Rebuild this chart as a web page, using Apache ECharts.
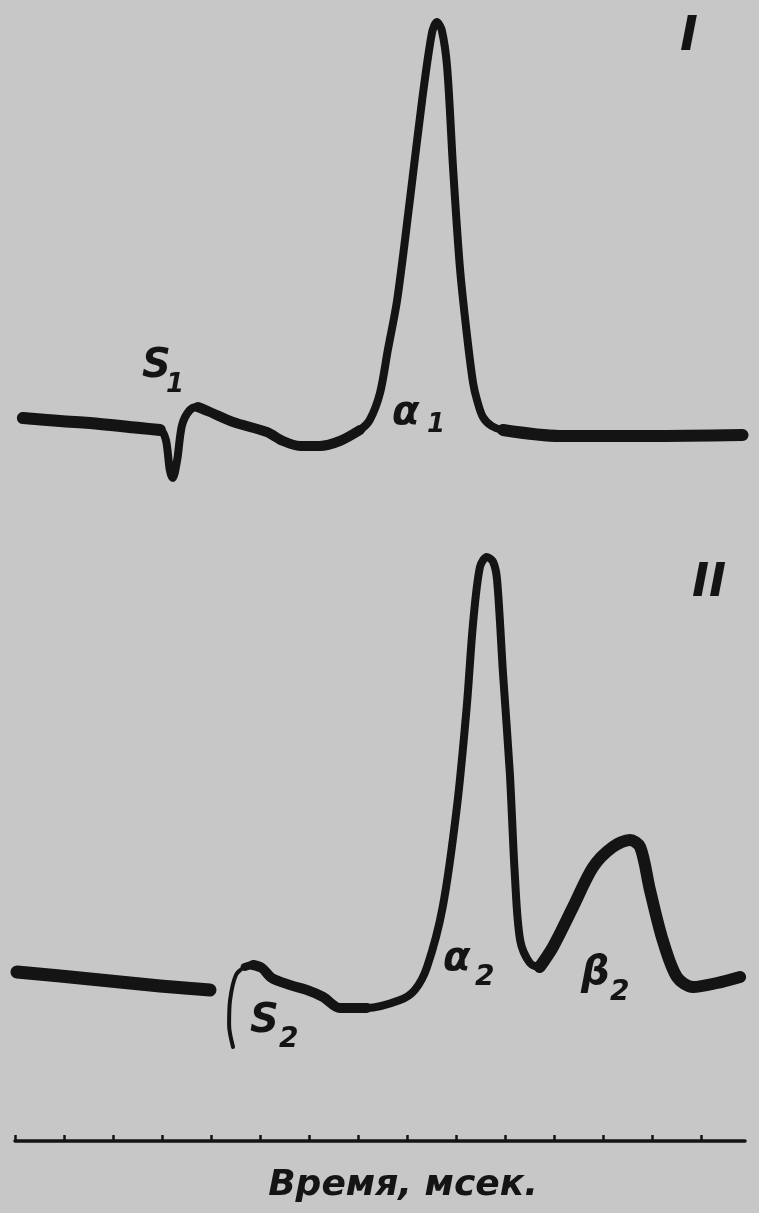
<!DOCTYPE html>
<html><head><meta charset="utf-8">
<script src="https://cdn.jsdelivr.net/npm/echarts@6/dist/echarts.min.js"></script>
<style>html,body{margin:0;padding:0;background:#c7c7c7}#c{width:759px;height:1213px}</style>
</head><body><div id="c"></div>
<script>
// x in time-scale divisions, y in relative amplitude units
const traceI = [[0.16,1.2],[0.92,0.9],[1.73,0.6],[2.55,0.2],[2.96,0.0],[3.08,-1.0],[3.16,-4.0],[3.22,-4.8],[3.31,-3.0],[3.41,0.5],[3.57,2.0],[3.73,2.3],[3.98,1.8],[4.45,0.8],[5.14,-0.2],[5.47,-1.1],[5.82,-1.6],[6.22,-1.6],[6.63,-1.1],[7.04,0.0],[7.24,1.0],[7.45,3.7],[7.61,8.0],[7.80,13.0],[8.06,23.0],[8.31,33.0],[8.51,39.7],[8.61,40.8],[8.71,40.0],[8.82,36.3],[8.94,26.3],[9.08,16.3],[9.22,9.7],[9.35,4.7],[9.43,3.0],[9.55,1.3],[9.73,0.4],[9.96,0.0],[11.12,-0.6],[12.96,-0.6],[14.85,-0.5]];
const traceII_left = [[0.04,1.8],[0.92,1.4],[1.94,0.9],[2.96,0.4],[3.98,0.0]];
const traceII_hook = [[4.45,-5.7],[4.37,-3.5],[4.39,-1.0],[4.51,1.5],[4.69,2.3],[4.86,2.5]];
const traceII = [[4.69,2.3],[4.86,2.5],[5.04,2.2],[5.24,1.2],[5.61,0.5],[5.96,0.0],[6.29,-0.7],[6.63,-1.8],[7.18,-1.8],[7.86,-1.0],[8.16,0.0],[8.41,2.3],[8.73,8.3],[9.02,18.3],[9.22,28.3],[9.35,36.7],[9.49,42.3],[9.63,43.3],[9.76,42.8],[9.84,41.0],[9.96,31.7],[10.10,21.7],[10.20,11.7],[10.31,5.0],[10.51,2.7],[10.71,2.3],[10.98,4.3],[11.39,8.3],[11.80,12.3],[12.20,14.3],[12.55,15.0],[12.76,14.3],[12.96,10.0],[13.22,5.0],[13.51,1.3],[13.84,0.3],[14.33,0.7],[14.80,1.3]];
const timeTicks = [0,1,2,3,4,5,6,7,8,9,10,11,12,13,14];
const axisTitle = 'Время, мсек.';

const chart = echarts.init(document.getElementById('c'), null, {renderer:'canvas'});
const ink = '#141414';
function seg(data, w, xi, yi){
  return {type:'line', data, xAxisIndex:xi, yAxisIndex:yi, showSymbol:false, smooth:0.3, animation:false,
    lineStyle:{color:ink, width:w, cap:'round', join:'round'}};
}
const hidY = {type:'value', show:false};
const hidX = {type:'value', min:0, max:14.9, show:false};
const font = '"DejaVu Sans", sans-serif';
function txt(x,y,t,size,weight){return {type:'text', x, y, z:10, style:{text:t, font:'italic '+(weight||'bold')+' '+size+'px '+font, fill:ink}};}
chart.setOption({
  backgroundColor:'#c7c7c7',
  grid:[
    {left:15, width:730, top:10, height:500},
    {left:15, width:730, top:540, height:530},
    {left:15, width:730, top:1141, height:0}
  ],
  xAxis:[
    Object.assign({gridIndex:0}, hidX),
    Object.assign({gridIndex:1}, hidX),
    {gridIndex:2, type:'value', min:0, max:14.9, interval:1, position:'bottom',
     axisLine:{show:true, onZero:false, lineStyle:{color:ink, width:3.5}},
     axisTick:{show:true, inside:true, length:6, lineStyle:{color:ink, width:2.5}, customValues: timeTicks},
     axisLabel:{show:false}, splitLine:{show:false}}
  ],
  yAxis:[
    Object.assign({gridIndex:0, min:-8, max:42}, hidY),
    Object.assign({gridIndex:1, min:-8, max:45}, hidY),
    {gridIndex:2, type:'value', show:false}
  ],
  series:[
    seg(traceI, 8, 0, 0),
    seg(traceI.slice(0, 5), 12, 0, 0),
    seg(traceI.slice(11, 20), 10, 0, 0),
    seg(traceI.slice(37), 12, 0, 0),
    seg(traceII_left, 13, 1, 1),
    seg(traceII_hook, 4, 1, 1),
    seg(traceII, 8, 1, 1),
    seg(traceII.slice(1, 9), 10, 1, 1),
    seg(traceII.slice(25), 12, 1, 1)
  ],
  graphic:[
    {type:'text', x:403, y:1186, z:10, style:{text:axisTitle, align:'center', verticalAlign:'middle', font:'italic bold 36px '+font, fill:ink}},
    txt(680,14,'I',48), txt(692,561,'II',46),
    txt(142,347,'S',40), txt(166,372,'1',26),
    txt(392,394,'α',40), txt(427,412,'1',26),
    txt(443,940,'α',40), txt(475,964,'2',28),
    txt(581,954,'β',40), txt(610,979,'2',28),
    txt(250,1002,'S',40), txt(279,1026,'2',28)
  ]
});
</script></body></html>
